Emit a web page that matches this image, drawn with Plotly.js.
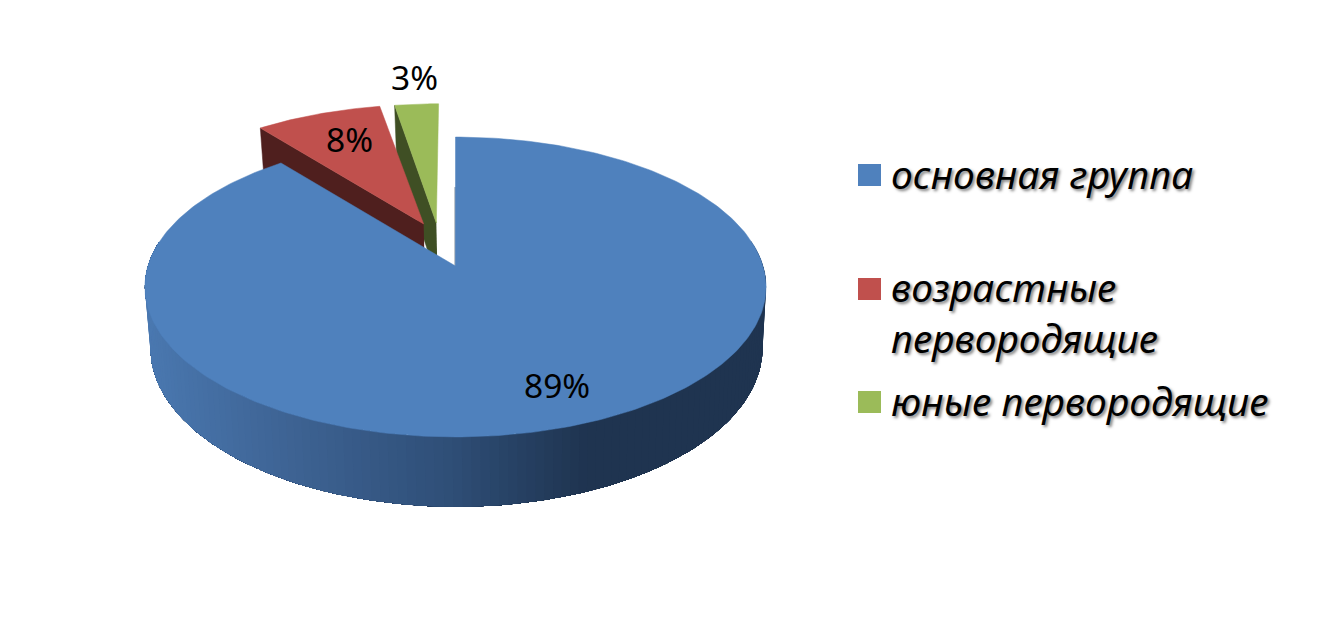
<!DOCTYPE html>
<html><head><meta charset="utf-8">
<script src="https://cdn.plot.ly/plotly-3.0.1.min.js"></script>
<style>html,body{margin:0;padding:0;background:#fff}#c{width:1323px;height:626px}</style>
</head><body><div id="c"></div>
<script>
// data
var categories = ['основная группа', 'возрастные<br>первородящие', 'юные первородящие'];
var values = [89.3, 8.0, 2.7];
var topColors = ['#4f81bd', '#c0504d', '#9bbb59'];
var sideColors = ['#1f3550', '#4f1f1e', '#3f4f24'];
var offsets = [[0, 0], [-0.108, 0.298], [-0.065, 0.305]];
var labelPos = [[557, 385], [349, 139], [414, 77]];
var legendRows = [175, 289, 402];
var legendTextRows = [173, 312, 400];

// view geometry
var cx = 455.5, cy = 266, k = 0.14, D = 60;
function project(u, v, low) {
  var w = 1 + k * v;
  return low ? [cx + 303 * u / w + 1, cy + (-147 * v + D) / w]
             : [cx + 307.5 * u / w, cy - 147 * v / w];
}
function rim(a, off) {
  var t = a * Math.PI / 180;
  return [off[0] + Math.sin(t), off[1] + Math.cos(t)];
}
var total = values.reduce(function (a, b) { return a + b; }, 0);
var starts = [], acc = 0;
values.forEach(function (v) { starts.push(acc / total * 360); acc += v; });
var ends = starts.map(function (s, i) { return s + values[i] / total * 360; });

function poly(pts, color, lineW, lineC) {
  return {
    type: 'scatter', mode: 'lines', fill: 'toself', fillcolor: color,
    x: pts.map(function (p) { return p[0]; }), y: pts.map(function (p) { return p[1]; }),
    line: { color: lineC || color, width: lineW === undefined ? 0.5 : lineW },
    hoverinfo: 'skip', showlegend: false
  };
}
function topFace(i) {
  var off = offsets[i], pts = [project(off[0], off[1])];
  for (var a = starts[i]; a <= ends[i] + 1e-6; a += Math.min(1, (ends[i] - starts[i]) / 20)) {
    var r = rim(a, off); pts.push(project(r[0], r[1]));
  }
  pts.push(pts[0]);
  return poly(pts, topColors[i]);
}
function sideFace(i, a) {
  var off = offsets[i], r = rim(a, off);
  return poly([project(off[0], off[1]), project(r[0], r[1]), project(r[0], r[1], true),
               project(off[0], off[1], true)], sideColors[i]);
}
// wall shading stops (screen x -> colour)
var stops = [[145, [74, 120, 176]], [300, [61, 98, 146]], [450, [47, 79, 120]], [590, [31, 52, 80]], [780, [31, 52, 80]]];
function shade(x) {
  for (var j = 0; j < stops.length - 1; j++) {
    if (x <= stops[j + 1][0]) {
      var f = Math.max(0, (x - stops[j][0]) / (stops[j + 1][0] - stops[j][0]));
      var c = stops[j][1].map(function (c0, n) { return Math.round(c0 + (stops[j + 1][1][n] - c0) * f); });
      return 'rgb(' + c.join(',') + ')';
    }
  }
  return 'rgb(31,52,80)';
}

var traces = [];
traces.push(sideFace(2, starts[2]));
traces.push(topFace(2));
traces.push(sideFace(1, starts[1]));
traces.push(topFace(1));
// blue outer wall: painted as overlapping sheets, each reaching to the far end, so no seams show
var wallEnd = 280, wallStep = 1.5;
for (var a = 80; a < wallEnd; a += wallStep) {
  var upper = [], lower = [];
  for (var b = a; b <= wallEnd; b += wallStep) {
    var q = rim(b, offsets[0]);
    upper.push(project(q[0], q[1]));
    lower.push(project(q[0], q[1], true));
  }
  var sheet = upper.concat(lower.reverse());
  sheet.push(sheet[0]);
  traces.push(poly(sheet, shade(upper[0][0]), 0));
}
// blue inner edge
var e0 = rim(starts[0], offsets[0]), e1 = project(0, 0), e2 = project(e0[0], e0[1]);
traces.push({ type: 'scatter', mode: 'lines', x: [e1[0] - 0.4, e2[0] - 0.4], y: [e1[1], e2[1] + 50],
  line: { color: '#1f3550', width: 0.7 }, hoverinfo: 'skip', showlegend: false });
traces.push(topFace(0));

var font = '"Noto Sans", "Open Sans", sans-serif';
var annotations = values.map(function (v, i) {
  return { xref: 'x', yref: 'y', x: labelPos[i][0], y: labelPos[i][1], text: Math.round(v) + '%', showarrow: false,
    xanchor: 'center', yanchor: 'middle', font: { family: font, size: 33.5, color: '#000' } };
}).concat(categories.map(function (c, i) {
  return { xref: 'x', yref: 'y', x: 889, y: legendTextRows[i], text: c, showarrow: false, align: 'left',
    xanchor: 'left', yanchor: 'middle',
    font: { family: font, size: 39, style: 'italic', color: '#000', shadow: '2px 2px 3px rgba(0,0,0,0.5)', lineposition: 'none' } };
}));
var shapes = topColors.map(function (c, i) {
  return { type: 'rect', xref: 'x', yref: 'y', x0: 858, x1: 881, y0: legendRows[i] - 11, y1: legendRows[i] + 11,
    fillcolor: c, line: { width: 0 } };
});

var hidden = { visible: false, fixedrange: true };
Plotly.newPlot('c', traces, {
  width: 1323, height: 626, margin: { l: 0, r: 0, t: 0, b: 0 }, showlegend: false,
  paper_bgcolor: '#fff', plot_bgcolor: '#fff',
  xaxis: Object.assign({ range: [0, 1323] }, hidden),
  yaxis: Object.assign({ range: [626, 0] }, hidden),
  annotations: annotations, shapes: shapes
}, { displayModeBar: false, staticPlot: true });
</script></body></html>
